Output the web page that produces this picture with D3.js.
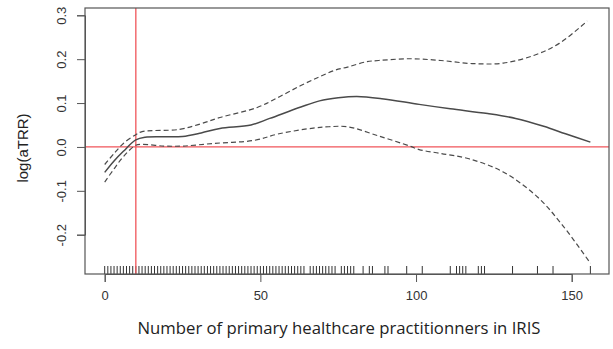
<!DOCTYPE html>
<html><head><meta charset="utf-8">
<script src="https://cdn.jsdelivr.net/npm/d3@7"></script>
<style>
html,body{margin:0;padding:0;background:#fff;}
svg{display:block;}
</style></head>
<body>
<svg id="chart" width="613" height="349"></svg>
<script>
// ---- data ----
const xTicks = [0, 50, 100, 150];
const yTicks = [-0.2, -0.1, 0.0, 0.1, 0.2, 0.3];
const yTickLabels = ["-0.2", "-0.1", "0.0", "0.1", "0.2", "0.3"];

const fitX = [0, 3, 6, 10, 13, 20, 25, 31, 37, 47, 53, 63, 69, 75, 81, 89, 101, 111, 123, 132, 141, 148, 156];
const fitY = [-0.058, -0.032, -0.010, 0.016, 0.022, 0.023, 0.024, 0.032, 0.042, 0.050, 0.065, 0.091, 0.105, 0.112, 0.115, 0.110, 0.097, 0.087, 0.076, 0.065, 0.047, 0.030, 0.011];

const upperX = [0, 3, 6, 10, 12, 24, 31, 37, 49, 56, 63, 69, 74, 78, 84, 88, 98, 108, 118, 128, 138, 146, 155];
const upperY = [-0.040, -0.015, 0.008, 0.028, 0.035, 0.040, 0.053, 0.067, 0.090, 0.114, 0.140, 0.160, 0.175, 0.182, 0.194, 0.197, 0.201, 0.197, 0.190, 0.191, 0.209, 0.236, 0.287];

const lowerX = [0, 3, 6, 10, 12, 19, 25, 35, 48, 56, 67, 72, 78, 88, 98, 101, 108, 117, 128, 139, 147, 156];
const lowerY = [-0.080, -0.050, -0.022, 0.004, 0.006, 0.002, 0.002, 0.008, 0.015, 0.030, 0.043, 0.046, 0.046, 0.025, 0.002, -0.006, -0.015, -0.027, -0.057, -0.114, -0.178, -0.265];

const rugValues = [
  0,1,2,3,4,5,6,7,8,9,10,11,12,13,14,15,16,17,18,19,20,21,22,23,24,25,26,27,28,29,
  30,31,32,33,34,35,36,37,38,39,40,41,42,43,44,45,46,47,48,49,50,51,52,53,54,55,56,57,58,59,
  60,61,62,63,64,66,67,68,69,70,71,72,73,74,76,77,78,79,80,83,85,86,90,91,97,102,
  111,113,114,115,116,120,121,122,131,139,144,156
];
const refX = 10;
const refY = 0;

const xLabel = "Number of primary healthcare practitionners in IRIS";
const yLabel = "log(aTRR)";

// ---- layout ----
const svg = d3.select("#chart");
const box = {left: 85, right: 609, top: 8, bottom: 274};
const x = d3.scaleLinear().domain([0, 150]).range([104.7, 571.7]);
const y = d3.scaleLinear().domain([-0.2, 0.3]).range([234.7, 15.3]);

const ink = "#4a4a4a";

// clip to box
svg.append("defs").append("clipPath").attr("id", "clip")
  .append("rect").attr("x", box.left).attr("y", box.top)
  .attr("width", box.right - box.left).attr("height", box.bottom - box.top);

// rug
svg.append("g").selectAll("line").data(rugValues).join("line")
  .attr("x1", d => x(d)).attr("x2", d => x(d))
  .attr("y1", box.bottom).attr("y2", box.bottom - 8)
  .attr("stroke", "#333").attr("stroke-width", 1);

// reference lines
svg.append("line")
  .attr("x1", box.left).attr("x2", box.right)
  .attr("y1", y(refY)).attr("y2", y(refY))
  .attr("stroke", "#f0555a").attr("stroke-width", 1.3);
svg.append("line")
  .attr("x1", x(refX)).attr("x2", x(refX))
  .attr("y1", box.top).attr("y2", box.bottom)
  .attr("stroke", "#f0555a").attr("stroke-width", 1.3);

// curves
const line = d3.line().x(d => x(d[0])).y(d => y(d[1])).curve(d3.curveCatmullRom.alpha(0.5));
const g = svg.append("g").attr("clip-path", "url(#clip)");
g.append("path").datum(d3.zip(upperX, upperY)).attr("d", line)
  .attr("fill", "none").attr("stroke", ink).attr("stroke-width", 1.2).attr("stroke-dasharray", "5,3");
g.append("path").datum(d3.zip(lowerX, lowerY)).attr("d", line)
  .attr("fill", "none").attr("stroke", ink).attr("stroke-width", 1.2).attr("stroke-dasharray", "5,3");
g.append("path").datum(d3.zip(fitX, fitY)).attr("d", line)
  .attr("fill", "none").attr("stroke", ink).attr("stroke-width", 1.5);

// box
svg.append("rect").attr("x", box.left).attr("y", box.top)
  .attr("width", box.right - box.left).attr("height", box.bottom - box.top)
  .attr("fill", "none").attr("stroke", "#555").attr("stroke-width", 1.2);

// x axis
const xAxis = svg.append("g").attr("transform", `translate(0,${box.bottom})`)
  .call(d3.axisBottom(x).tickValues(xTicks).tickSize(8).tickFormat(d3.format("d")));
xAxis.select(".domain").attr("stroke", "#555");
xAxis.selectAll(".tick line").attr("stroke", "#555");
xAxis.selectAll(".tick text").attr("y", 26).attr("dy", "0")
  .attr("font-family", "Liberation Sans, Arial, sans-serif").attr("font-size", 13).attr("fill", "#333");

// y axis
const yAxis = svg.append("g").attr("transform", `translate(${box.left},0)`)
  .call(d3.axisLeft(y).tickValues(yTicks).tickSize(8).tickFormat((d, i) => yTickLabels[i]));
yAxis.select(".domain").attr("stroke", "#555");
yAxis.selectAll(".tick line").attr("stroke", "#555");
yAxis.selectAll(".tick text")
  .attr("x", null).attr("dy", null)
  .attr("transform", "translate(-24,0) rotate(-90)")
  .attr("text-anchor", "middle").attr("dy", "0.35em")
  .attr("font-family", "Liberation Sans, Arial, sans-serif").attr("font-size", 13).attr("fill", "#333");

// axis titles
svg.append("text").attr("x", 339).attr("y", 334)
  .attr("text-anchor", "middle")
  .attr("font-family", "Open Sans, sans-serif").attr("font-size", 16).attr("fill", "#222")
  .attr("textLength", 403).attr("lengthAdjust", "spacingAndGlyphs")
  .text(xLabel);
svg.append("text").attr("transform", "translate(23,148) rotate(-90)")
  .attr("text-anchor", "middle").attr("dy", "0.35em")
  .attr("font-family", "Liberation Sans, Arial, sans-serif").attr("font-size", 15).attr("fill", "#222")
  .text(yLabel);
</script>
</body></html>
